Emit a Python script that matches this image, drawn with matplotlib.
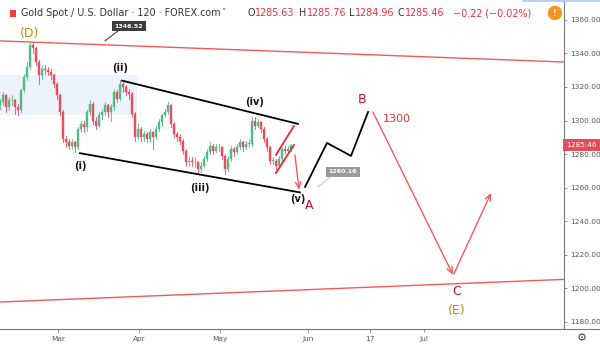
import matplotlib
matplotlib.use("Agg")
import matplotlib.pyplot as plt
from matplotlib.patches import Rectangle
import matplotlib.lines as mlines

plt.rcParams['font.family'] = ['DejaVu Sans']

# ---------------- data ----------------
opens = [1309, 1311, 1315, 1308, 1312, 1312, 1308, 1306, 1318, 1326,
         1332, 1345, 1343, 1335, 1327, 1331, 1330, 1329, 1327, 1322,
         1315, 1305, 1289, 1287, 1285, 1287, 1284, 1295, 1298, 1296,
         1305, 1310, 1300, 1297, 1303, 1305, 1309, 1305, 1308, 1317,
         1313, 1322, 1320, 1317, 1316, 1304, 1290, 1295, 1290, 1292,
         1289, 1293, 1290, 1295, 1299, 1303, 1305, 1309, 1298, 1292,
         1290, 1288, 1282, 1275, 1276, 1275, 1275, 1271, 1273, 1277,
         1281, 1285, 1282, 1284, 1284, 1279, 1271, 1277, 1283, 1281,
         1284, 1287, 1284, 1286, 1286, 1300, 1297, 1299, 1295, 1289,
         1284, 1276, 1276, 1273, 1277, 1283, 1282, 1283]
closes = [1311, 1315, 1308, 1312, 1312, 1308, 1306, 1318, 1326, 1332,
          1345, 1343, 1335, 1327, 1331, 1330, 1329, 1327, 1322, 1315,
          1305, 1289, 1287, 1285, 1287, 1284, 1295, 1298, 1296, 1305,
          1310, 1300, 1297, 1303, 1305, 1309, 1305, 1308, 1317, 1313,
          1322, 1320, 1317, 1316, 1304, 1290, 1295, 1290, 1292, 1289,
          1293, 1290, 1295, 1299, 1303, 1305, 1309, 1298, 1292, 1290,
          1288, 1282, 1275, 1276, 1275, 1275, 1271, 1273, 1277, 1281,
          1285, 1282, 1284, 1284, 1279, 1271, 1277, 1283, 1281, 1284,
          1287, 1284, 1286, 1286, 1300, 1297, 1299, 1295, 1289, 1284,
          1276, 1276, 1273, 1277, 1283, 1282, 1283, 1285.46]
highs = [1313, 1317, 1316, 1314, 1315, 1313, 1310, 1319, 1328, 1335,
         1347, 1346.52, 1344, 1336, 1333, 1333, 1332, 1331, 1328, 1323,
         1316, 1306, 1291, 1289, 1289, 1288, 1296, 1300, 1300, 1306,
         1312, 1311, 1302, 1305, 1307, 1311, 1310, 1310, 1319, 1318,
         1324, 1323.5, 1321, 1319, 1317, 1305, 1298, 1296, 1294, 1293,
         1295, 1294, 1297, 1301, 1304, 1307, 1311, 1310, 1299, 1293,
         1292, 1289, 1283, 1278, 1278, 1278, 1276, 1275, 1279, 1283,
         1287, 1286, 1286, 1286, 1285, 1280, 1279, 1285, 1284, 1286,
         1289, 1288, 1288, 1289, 1302, 1302, 1301, 1300, 1296, 1290,
         1285, 1278, 1277, 1279, 1284, 1285, 1285, 1286]
lows = [1307, 1309, 1305, 1306, 1309, 1304, 1303, 1305, 1317, 1324,
        1331, 1340, 1333, 1322, 1325, 1328, 1327, 1325, 1320, 1313,
        1303, 1287, 1284, 1283, 1283, 1281, 1283, 1293, 1293, 1294,
        1303, 1298, 1295, 1296, 1301, 1303, 1302, 1300, 1306, 1311,
        1312, 1317, 1315, 1313, 1302, 1288, 1289, 1288, 1288, 1287,
        1287, 1283, 1289, 1294, 1297, 1302, 1304, 1296, 1290, 1288,
        1286, 1280, 1273, 1273, 1273, 1272, 1268, 1269, 1272, 1276,
        1280, 1280, 1281, 1282, 1277, 1268, 1270, 1276, 1279, 1280,
        1283, 1282, 1283, 1284, 1285, 1295, 1296, 1293, 1287, 1282,
        1274, 1274, 1271, 1272, 1276, 1280, 1281, 1282]

tick_pos = [19.4, 46.3, 73.2, 102.8, 123.2, 141.2]
tick_labels = ["Mar", "Apr", "May", "Jun", "17", "Jul"]
price_ticks = [1180, 1200, 1220, 1240, 1260, 1280, 1300, 1320, 1340, 1360]
last_price = 1285.46
header_ohlc = [("O", "1285.63"), ("H", "1285.76"), ("L", "1284.96"),
               ("C", "1285.46")]
header_change = "\u22120.22 (\u22120.02%)"

# trend lines (x in bar slots, y in price)
resist_x, resist_y = [0, 188], [1347.5, 1334.9]
support_x, support_y = [0, 188], [1191.7, 1205.2]
chan_up_x, chan_up_y = [40.67, 99.3], [1323.8, 1298.0]
chan_lo_x, chan_lo_y = [26.67, 100.0], [1280.5, 1257.1]
flag1_x, flag1_y = [92.0, 98.0], [1279.5, 1296.8]
flag2_x, flag2_y = [92.0, 98.0], [1268.7, 1285.4]
drop_x, drop_y = [98.3, 99.7], [1279.5, 1258.6]
path_x = [101.7, 109.0, 117.0, 122.7]
path_y = [1260.4, 1286.6, 1278.9, 1305.1]
bc_x, bc_y = [124.3, 151.0], [1305.1, 1207.9]
ce_x, ce_y = [151.3, 163.7], [1208.5, 1256.8]
shade_x, shade_y = [0, 45.7], [1303.3, 1327.2]

# ---------------- figure ----------------
W, H = 600, 346
AX_R, AX_B = 564, 329
YMIN, YMAX = 1175.6, 1371.9
fig = plt.figure(figsize=(W / 100, H / 100), dpi=100)
ax = fig.add_axes([0, (H - AX_B) / H, AX_R / W, AX_B / H])
ax.set_xlim(0, 188)
ax.set_ylim(YMIN, YMAX)

UP, DN = "#53b987", "#eb4d5c"
RED = "#f25a5a"

ax.add_patch(Rectangle((shade_x[0], shade_y[0]), shade_x[1] - shade_x[0],
                       shade_y[1] - shade_y[0], facecolor="#edf3fc",
                       edgecolor="none", zorder=0))

for i, (o, h, l, c) in enumerate(zip(opens, highs, lows, closes)):
    col = UP if c >= o else DN
    ax.plot([i, i], [l, h], color=col, lw=0.6, zorder=2)
    bot = min(o, c)
    ht = max(abs(c - o), 0.4)
    ax.add_patch(Rectangle((i - 0.3, bot), 0.6, ht, facecolor=col,
                           edgecolor=col, lw=0.3, zorder=3))

ax.plot(resist_x, resist_y, color=RED, lw=1.0, zorder=4)
ax.plot(support_x, support_y, color=RED, lw=1.0, zorder=4)
ax.plot(chan_up_x, chan_up_y, color="black", lw=1.3, zorder=4)
ax.plot(chan_lo_x, chan_lo_y, color="black", lw=1.3, zorder=4)
ax.plot(flag1_x, flag1_y, color="#f0262f", lw=1.3, zorder=4)
ax.plot(flag2_x, flag2_y, color="#f0262f", lw=1.3, zorder=4)
ax.plot(path_x, path_y, color="black", lw=1.3, zorder=4)


def arrow(xs, ys):
    ax.annotate("", xy=(xs[1], ys[1]), xytext=(xs[0], ys[0]),
                arrowprops=dict(arrowstyle="->,head_length=0.45,head_width=0.2",
                                color=RED, lw=1.0, shrinkA=0, shrinkB=0),
                zorder=5)


arrow(drop_x, drop_y)
arrow(bc_x, bc_y)
arrow(ce_x, ce_y)

ORANGE = "#c8860d"
DKRED = "#c8102e"
ax.text(10, 1352.2, "(D)", color=ORANGE, fontsize=9, ha="center", va="center")
ax.text(152.3, 1186.4, "(E)", color=ORANGE, fontsize=9, ha="center", va="center")
for x, y, s in [(40, 1331.4, "(ii)"), (26.7, 1272.9, "(i)"),
                (66.7, 1259.8, "(iii)"), (85, 1311.1, "(iv)"),
                (99.2, 1253.4, "(v)")]:
    ax.text(x, y, s, color="#111111", fontsize=7, ha="center", va="center",
            fontweight="bold")
ax.text(102.9, 1249.2, "A", color=DKRED, fontsize=9, ha="center", va="center")
ax.text(120.7, 1312.3, "B", color=DKRED, fontsize=9, ha="center", va="center")
ax.text(152.3, 1197.7, "C", color=DKRED, fontsize=9, ha="center", va="center")
ax.text(132.3, 1301.0, "1300", color="#e8323c", fontsize=8, ha="center",
        va="center")

ax.plot([39.3, 35.0], [1353.4, 1347.5], color="#444444", lw=0.8, zorder=5)
ax.text(43, 1356.1, "1346.52", color="white", fontsize=4.5, fontweight="bold",
        ha="center", va="center", zorder=6,
        bbox=dict(boxstyle="square,pad=0.4", facecolor="#3c3c3c",
                  edgecolor="none"))
ax.plot([110.0, 106.0], [1266.3, 1260.4], color="#c8c8c8", lw=0.8, zorder=5)
ax.text(114.3, 1269.3, "1260.16", color="white", fontsize=4.5,
        fontweight="bold", ha="center", va="center", zorder=6,
        bbox=dict(boxstyle="square,pad=0.4", facecolor="#9a9a9a",
                  edgecolor="none"))

for s in ["top", "left"]:
    ax.spines[s].set_visible(False)
for s in ["right", "bottom"]:
    ax.spines[s].set_color("#7a7a7a")
    ax.spines[s].set_linewidth(0.8)
ax.yaxis.tick_right()
ax.set_yticks(price_ticks)
ax.set_yticklabels([f"{p:.2f}" for p in price_ticks])
ax.tick_params(axis="y", length=2.5, width=0.6, colors="#7a7a7a",
               labelcolor="#555555", labelsize=5.3, pad=2)
ax.set_xticks(tick_pos)
ax.set_xticklabels(tick_labels)
ax.tick_params(axis="x", length=2, width=0.6, colors="#7a7a7a",
               labelcolor="#555555", labelsize=5.3, pad=3)

ax.text(1.004, (last_price - YMIN) / (YMAX - YMIN), f"{last_price:.2f}",
        transform=ax.transAxes, color="white", fontsize=5.3, ha="left",
        va="center", zorder=10, clip_on=False,
        bbox=dict(boxstyle="square,pad=0.45", facecolor="#e84b5b",
                  edgecolor="none"))

fig.add_artist(mlines.Line2D([AX_R / W, 1], [1 - AX_B / H, 1 - AX_B / H],
                             color="#7a7a7a", lw=0.8))
fig.add_artist(mlines.Line2D([523 / W, 1], [1 - 0.5 / H, 1 - 0.5 / H],
                             color="#a9c9f0", lw=1.2))
fig.text(582 / W, 1 - 338 / H, "\u2699", fontsize=8, color="#444444",
         ha="center", va="center")

# header
fig.add_artist(Rectangle((10 / W, 1 - 17 / H), 6 / W, 7 / H,
                         facecolor="#f23b3b", edgecolor="none",
                         transform=fig.transFigure))
hy = 1 - 13 / H
HFS = 6.9
fig.text(21 / W, hy, "Gold Spot / U.S. Dollar \u00b7 120 \u00b7 FOREX.com",
         fontsize=HFS, color="#333333", ha="left", va="center")
fig.text(221 / W, hy + 1 / H, "\u02c5", fontsize=6, color="#333333",
         ha="left", va="center")
fig.canvas.draw()
renderer = fig.canvas.get_renderer()
for x, (k, v) in zip([247, 299, 349, 398], header_ohlc):
    t = fig.text(x / W, hy, k, fontsize=HFS, color="#333333", ha="left",
                 va="center")
    bb = t.get_window_extent(renderer)
    fig.text(bb.x1 / W + 0.5 / W, hy, v, fontsize=HFS, color="#e8323c",
             ha="left", va="center")
fig.text(453 / W, hy, header_change, fontsize=HFS, color="#e8323c",
         ha="left", va="center")
fig.text(555 / W, 1 - 13 / H, "!", fontsize=5.5, color="white",
         fontweight="bold", ha="center", va="center",
         bbox=dict(boxstyle="circle,pad=0.35", facecolor="#f7931e",
                   edgecolor="none"))

fig.savefig("out.png", dpi=100)
